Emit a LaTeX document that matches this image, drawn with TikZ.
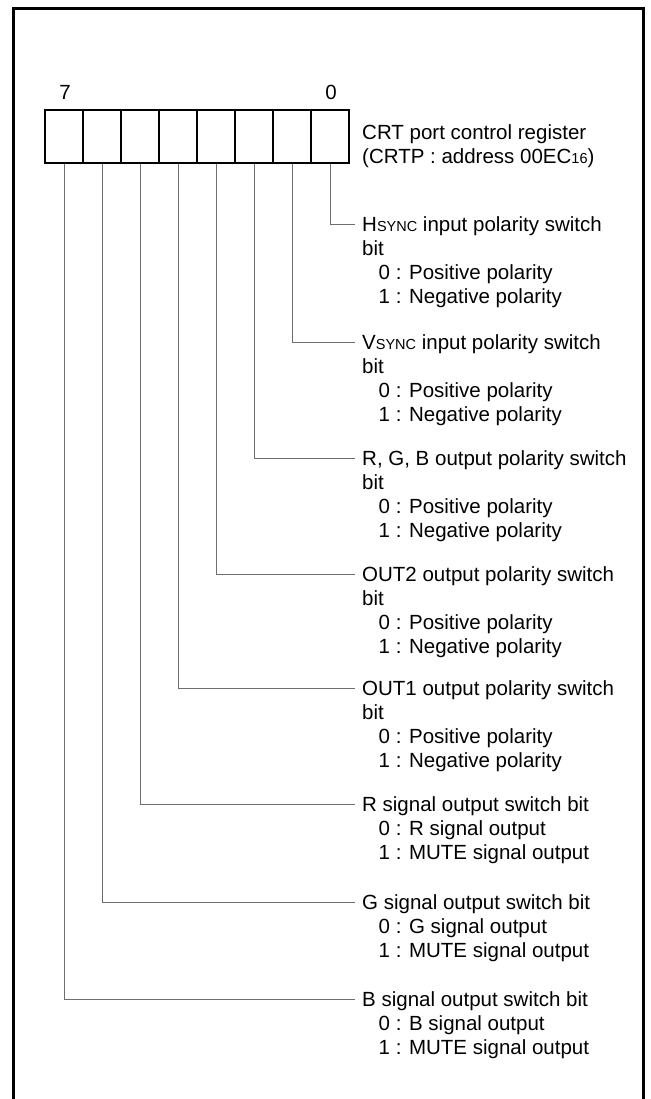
\documentclass[tikz,border=0pt]{standalone}
\usepackage{fontspec}
\setmainfont{Liberation Sans}
\definecolor{leadgray}{RGB}{110,110,110}
\usetikzlibrary{positioning,calc}
\newcommand\regind{\hspace*{16.5pt}}
\newcommand\smcap[1]{{\fontsize{14.5}{14.5}\selectfont #1}}
\tikzset{
  cell/.style={rectangle,draw=black,line width=2pt,
               minimum width=38pt,minimum height=53pt,inner sep=0pt},
  lead/.style={draw=leadgray,line width=0.9pt},
  entry/.style={anchor=north west,inner sep=0pt,align=left,
                font=\fontsize{20.5}{24}\selectfont},
}

\begin{document}
\begin{tikzpicture}[
        x=1pt, y=-1pt,
        bitno/.style = {font=\fontsize{20.5}{24}\selectfont, inner sep=0pt}
      ]
        \useasboundingbox (0,0) rectangle (650,1099);
        \draw[line width=3pt] (13.5,1099) -- (13.5,8.5) -- (643.5,8.5) -- (643.5,1099);
        \foreach \i in {0,...,7}
          \node[cell] (c\i) at ({330-38*\i},136.5) {};
        \node[bitno] (n7) at (65,92) {7};
        \node[bitno] (n0) at (331,92) {0};
        \node[entry] (reg) at (362,124.4)
          {CRT port control register\\(CRTP : address 00EC\smcap{16})};
        \foreach \i/\y in {0/224, 1/342, 2/458, 3/574, 4/688, 5/804, 6/902, 7/999}
          \coordinate (e\i) at (355,\y);
        \node[entry] (t0) at ([shift={(7,-7.6)}]e0)
          {H\smcap{SYNC} input polarity switch\\bit\\\regind 0 : Positive polarity\\\regind 1 : Negative polarity};
        \node[entry] (t1) at ([shift={(7,-7.6)}]e1)
          {V\smcap{SYNC} input polarity switch\\bit\\\regind 0 : Positive polarity\\\regind 1 : Negative polarity};
        \node[entry] (t2) at ([shift={(7,-7.6)}]e2)
          {R, G, B output polarity switch\\bit\\\regind 0 : Positive polarity\\\regind 1 : Negative polarity};
        \node[entry] (t3) at ([shift={(7,-7.6)}]e3)
          {OUT2 output polarity switch\\bit\\\regind 0 : Positive polarity\\\regind 1 : Negative polarity};
        \node[entry] (t4) at ([shift={(7,-7.6)}]e4)
          {OUT1 output polarity switch\\bit\\\regind 0 : Positive polarity\\\regind 1 : Negative polarity};
        \node[entry] (t5) at ([shift={(7,-7.6)}]e5)
          {R signal output switch bit\\\regind 0 : R signal output\\\regind 1 : MUTE signal output};
        \node[entry] (t6) at ([shift={(7,-7.6)}]e6)
          {G signal output switch bit\\\regind 0 : G signal output\\\regind 1 : MUTE signal output};
        \node[entry] (t7) at ([shift={(7,-7.6)}]e7)
          {B signal output switch bit\\\regind 0 : B signal output\\\regind 1 : MUTE signal output};
        \foreach \i in {0,...,7}
          \draw[lead] (c\i.south) |- (e\i);
      \end{tikzpicture}
\end{document}
